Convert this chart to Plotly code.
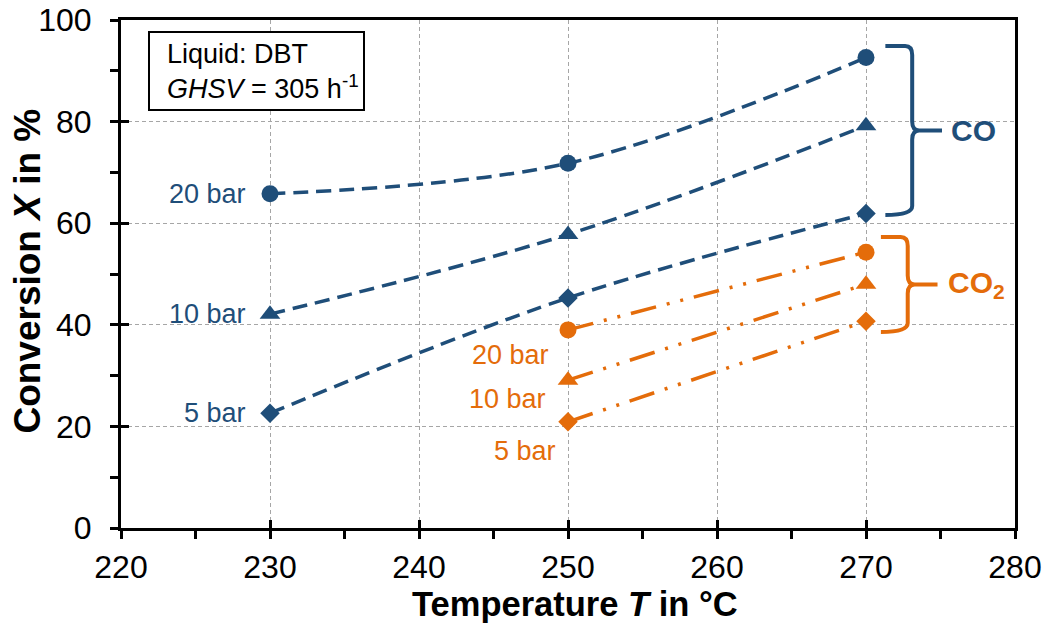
import plotly.graph_objects as go

# Conversion of CO and CO2 versus reactor temperature at three pressures
temps_co = [230, 250, 270]
co_20bar = [65.8, 71.8, 92.6]
co_10bar = [42.1, 57.8, 79.2]
co_5bar = [22.6, 45.3, 61.9]

temps_co2 = [250, 270]
co2_20bar = [39.0, 54.3]
co2_10bar = [29.1, 48.0]
co2_5bar = [20.9, 40.7]

pressure_labels = ["20 bar", "10 bar", "5 bar"]
x_ticks = [220, 230, 240, 250, 260, 270, 280]
y_ticks = [0, 20, 40, 60, 80, 100]

BLUE = "#1F4E79"
ORANGE = "#E46C0A"
FONT = "Arial, 'Liberation Sans', sans-serif"
symbols = ["circle", "triangle-up", "diamond"]
marker_sizes = [17, 18, 15]

fig = go.Figure()

co_series = [co_20bar, co_10bar, co_5bar]
co2_series = [co2_20bar, co2_10bar, co2_5bar]

for vals, sym, ms in zip(co_series, symbols, marker_sizes):
    fig.add_trace(go.Scatter(
        x=temps_co, y=vals, mode="lines+markers",
        line=dict(color=BLUE, width=3.5, dash="15px,8px", shape="spline", smoothing=1),
        marker=dict(symbol=sym, size=ms, color=BLUE),
        showlegend=False, hoverinfo="x+y"))

for vals, sym, ms in zip(co2_series, symbols, marker_sizes):
    fig.add_trace(go.Scatter(
        x=temps_co2, y=vals, mode="lines+markers",
        line=dict(color=ORANGE, width=3.5, dash="26px,11px,3px,11px,3px,11px"),
        marker=dict(symbol=sym, size=ms, color=ORANGE),
        showlegend=False, hoverinfo="x+y"))

# empty trace carrying the overlay axes used for the inward tick marks
fig.add_trace(go.Scatter(x=[], y=[], xaxis="x2", yaxis="y2", showlegend=False, hoverinfo="skip"))

annotations = []

# pressure labels for CO (left of the first point)
for lab, vals in zip(pressure_labels, co_series):
    annotations.append(dict(x=temps_co[0], y=vals[0], text=lab, showarrow=False,
                            xanchor="right", yanchor="middle", xshift=-22,
                            font=dict(family=FONT, size=27, color=BLUE)))

# pressure labels for CO2 (below-left of the first point)
co2_label_shift = [(-17, -25), (-20, -19), (-10, -29)]
for lab, vals, (dx, dy) in zip(pressure_labels, co2_series, co2_label_shift):
    annotations.append(dict(x=temps_co2[0], y=vals[0], text=lab, showarrow=False,
                            xanchor="right", yanchor="middle", xshift=dx, yshift=dy,
                            font=dict(family=FONT, size=27, color=ORANGE)))

# curly braces grouping the series at 270 °C
px_x = 10 / 149.0   # data units per pixel, x
px_y = 100 / 508.0  # data units per pixel, y


def brace_path(top, bottom, x_left, x_stem, x_tip):
    mid = (top + bottom) / 2
    r = 9 * px_y
    k = 7 * px_x
    return (f"M {x_left},{top} L {x_stem - k},{top} Q {x_stem},{top} {x_stem},{top - r} "
            f"L {x_stem},{mid + r} Q {x_stem},{mid} {x_stem + k},{mid} L {x_tip},{mid} "
            f"M {x_stem + k},{mid} Q {x_stem},{mid} {x_stem},{mid - r} "
            f"L {x_stem},{bottom + r} Q {x_stem},{bottom} {x_left},{bottom}")


co_end = [s[-1] for s in co_series]
co2_end = [s[-1] for s in co2_series]
co_top, co_bot = max(co_end) + 2.3, min(co_end) - 0.3
co2_top, co2_bot = max(co2_end) + 3.0, min(co2_end) - 2.1

shapes = [
    dict(type="path", xref="x", yref="y",
         path=brace_path(co_top, co_bot, 271.3, 273.1, 275.1),
         line=dict(color=BLUE, width=4)),
    dict(type="path", xref="x", yref="y",
         path=brace_path(co2_top, co2_bot, 271.0, 272.8, 274.8),
         line=dict(color=ORANGE, width=4)),
    # frame around the operating-condition note
    dict(type="rect", xref="paper", yref="paper",
         x0=28 / 894, x1=243 / 894, y0=(528 - 110) / 508, y1=(528 - 32) / 508,
         line=dict(color="black", width=2), fillcolor="white"),
]

annotations.append(dict(x=275.6, y=(co_top + co_bot) / 2, text="<b>CO</b>", showarrow=False,
                        xanchor="left", yanchor="middle",
                        font=dict(family=FONT, size=30, color=BLUE)))
annotations.append(dict(x=275.35, y=(co2_top + co2_bot) / 2, text="<b>CO<sub>2</sub></b>",
                        showarrow=False, xanchor="left", yanchor="middle",
                        font=dict(family=FONT, size=30, color=ORANGE)))

annotations.append(dict(xref="paper", yref="paper", x=44 / 894, y=(528 - 71) / 508,
                        text="Liquid: DBT<br><i>GHSV</i> = 305 h<sup>-1</sup>",
                        showarrow=False, xanchor="left", yanchor="middle", align="left",
                        font=dict(family=FONT, size=27, color="black")))

# axis titles
annotations.append(dict(xref="paper", yref="paper", x=0.508, y=-0.150,
                        text="<b>Temperature <i>T</i> in °C</b>", showarrow=False,
                        xanchor="center", yanchor="middle",
                        font=dict(family=FONT, size=34.5, color="black")))
annotations.append(dict(xref="paper", yref="paper", x=-0.105, y=0.505, textangle=-90,
                        text="<b>Conversion <i>X</i> in %</b>", showarrow=False,
                        xanchor="center", yanchor="middle",
                        font=dict(family=FONT, size=37, color="black")))

grid = dict(showgrid=True, gridcolor="#A6A6A6", gridwidth=1, griddash="4px,3px")

fig.update_layout(
    width=1051, height=633,
    margin=dict(l=121, r=36, t=20, b=105),
    paper_bgcolor="white", plot_bgcolor="white",
    font=dict(family=FONT, color="black"),
    shapes=shapes, annotations=annotations,
    xaxis=dict(range=[220, 280], tickvals=x_ticks, ticks="outside", ticklen=8, tickwidth=3,
               tickcolor="black", showline=True, mirror=True, linewidth=3, linecolor="black",
               zeroline=False, tickfont=dict(size=32, family=FONT, color="black"),
               ticklabelstandoff=1, automargin=False,
               minor=dict(dtick=5, ticks="outside", ticklen=8, tickwidth=2.5, tickcolor="black",
                          showgrid=False),
               **grid),
    yaxis=dict(range=[0, 100], tickvals=y_ticks, ticks="outside", ticklen=8, tickwidth=3,
               tickcolor="black", showline=True, mirror=True, linewidth=3, linecolor="black",
               zeroline=False, tickfont=dict(size=32, family=FONT, color="black"),
               ticklabelstandoff=12, automargin=False,
               minor=dict(dtick=10, ticks="outside", ticklen=8, tickwidth=2.5, tickcolor="black",
                          showgrid=False),
               **grid),
    xaxis2=dict(range=[220, 280], overlaying="x", anchor="y2", side="bottom",
                tickvals=x_ticks, ticks="inside", ticklen=8, tickwidth=3, tickcolor="black",
                showticklabels=False, showgrid=False, zeroline=False, showline=False,
                automargin=False),
    yaxis2=dict(range=[0, 100], overlaying="y", anchor="x2", side="left",
                tickvals=y_ticks, ticks="inside", ticklen=8, tickwidth=3, tickcolor="black",
                showticklabels=False, showgrid=False, zeroline=False, showline=False,
                automargin=False),
)

fig.write_html("out.html")
